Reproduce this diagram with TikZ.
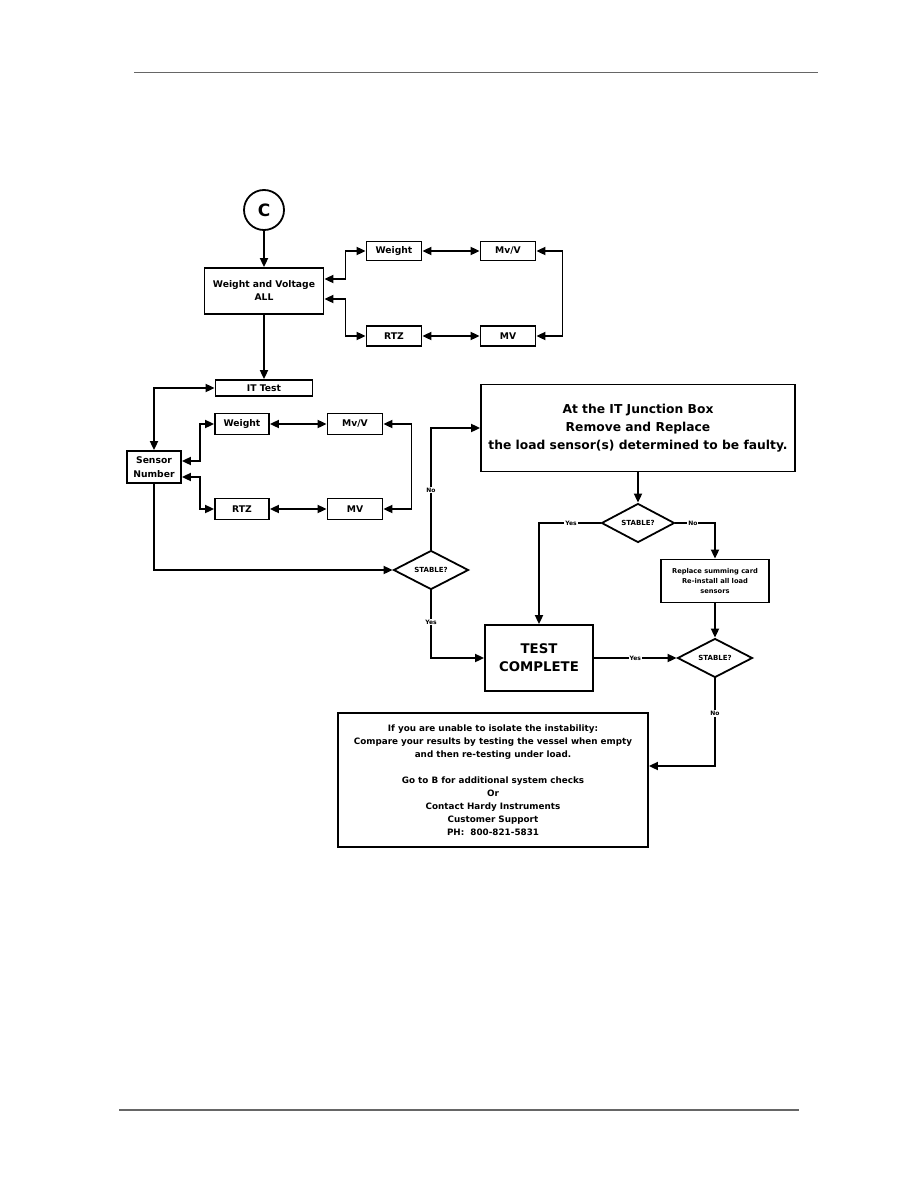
\documentclass[tikz,border=0pt]{standalone}
\usepackage{fontspec}
\setmainfont{DejaVu Sans}
\usetikzlibrary{shapes.geometric,arrows.meta}

\newcommand{\fsz}[2]{\fontsize{#1}{#2}\selectfont}

\begin{document}
\begin{tikzpicture}[x=1pt, y=-1pt, line width=1.8pt,
  box/.style={draw, rectangle, inner sep=0pt, align=center, font=\bfseries\fsz{9.2}{13}},
  dmd/.style={draw, diamond, aspect=1.9, inner sep=0pt, minimum width=75pt, minimum height=39pt, font=\bfseries\fsz{7}{8}},
  lbl/.style={fill=white, inner sep=1pt, font=\bfseries\fsz{6}{7}},
  >={Triangle[length=9pt, width=8pt]}]
  \useasboundingbox (0,0) rectangle (918,1188);
  % page rules
  \draw[line width=1pt, black!60] (134,73) -- (818,73);
  \draw[line width=2pt, black!60] (119,1110) -- (799,1110);

  % weight and voltage, all sensors
  \node[draw, circle, minimum size=40pt, inner sep=0pt, font=\bfseries\fsz{17}{20}] (c) at (264,210) {C};
  \node[box, minimum width=119pt, minimum height=46pt] (wv) at (264,291) {Weight and Voltage\\ALL};
  \node[box, minimum width=55pt, minimum height=19pt] (w1) at (394,251) {Weight};
  \node[box, minimum width=55pt, minimum height=19pt] (v1) at (508,251) {Mv/V};
  \node[box, minimum width=55pt, minimum height=20pt] (r1) at (394,336) {RTZ};
  \node[box, minimum width=55pt, minimum height=20pt] (m1) at (508,336) {MV};
  \draw[->] (c.south) -- (wv.north);
  \draw[<->] ([yshift=12pt]wv.east) -- ++(21,0) |- (w1.west);
  \draw[<->] ([yshift=-8pt]wv.east) -- ++(21,0) |- (r1.west);
  \draw[<->] (w1) -- (v1);
  \draw[<->] (r1) -- (m1);
  \draw[<->] (v1.east) -- ++(26,0) |- (m1.east);

  % IT test, one sensor at a time
  \node[box, minimum width=97pt, minimum height=16pt] (it) at (264,388) {IT Test};
  \node[box, minimum width=54pt, minimum height=32pt, font=\bfseries\fsz{9.2}{14}] (sn) at (154,467) {Sensor\\Number};
  \node[box, minimum width=54pt, minimum height=21pt] (w2) at (242,424) {Weight};
  \node[box, minimum width=55pt, minimum height=21pt] (v2) at (355,424) {Mv/V};
  \node[box, minimum width=54pt, minimum height=21pt] (r2) at (242,509) {RTZ};
  \node[box, minimum width=55pt, minimum height=21pt] (m2) at (355,509) {MV};
  \draw[->] (wv.south) -- (it.north);
  \draw[<->] (it.west) -| (sn.north);
  \draw[<->] ([yshift=6pt]sn.east) -- ++(18,0) |- (w2.west);
  \draw[<->] ([yshift=-10pt]sn.east) -- ++(18,0) |- (r2.west);
  \draw[<->] (w2) -- (v2);
  \draw[<->] (r2) -- (m2);
  \draw[<->] (v2.east) -- ++(28,0) |- (m2.east);

  % decisions
  \node[dmd] (d1) at (431,570) {STABLE?};
  \node[box, minimum width=314pt, minimum height=87pt, font=\bfseries\fsz{12.3}{18}] (big) at (638,428)
    {At the IT Junction Box\\Remove and Replace\\the load sensor(s) determined to be faulty.};
  \node[dmd, minimum width=73pt] (d2) at (638,523) {STABLE?};
  \node[box, minimum width=108pt, minimum height=43pt, font=\bfseries\fsz{6.7}{10}] (rep) at (715,581)
    {Replace summing card\\Re-install all load\\sensors};
  \node[box, minimum width=108pt, minimum height=66pt, font=\bfseries\fsz{13.3}{18}] (tc) at (539,658) {TEST\\COMPLETE};
  \node[dmd] (d3) at (715,658) {STABLE?};
  \node[box, minimum width=310pt, minimum height=134pt, font=\bfseries\fsz{8.8}{13}] (fin) at (493,780)
    {If you are unable to isolate the instability:\\Compare your results by testing the vessel when empty\\and then re-testing under load.\\[13pt]
     Go to B for additional system checks\\Or\\Contact Hardy Instruments\\Customer Support\\PH:~~800-821-5831};

  \draw[->] (sn.south) |- (d1.west);
  \draw[->] (d1.north) |- node[lbl, pos=0.245] {No} (big.west);
  \draw[->] (d1.south) |- node[lbl, pos=0.235] {Yes} (tc.west);
  \draw[->] (big.south) -- (d2.north);
  \draw[->] (d2.west) -| node[lbl, pos=0.24] {Yes} (tc.north);
  \draw[->] (d2.east) -| node[lbl, pos=0.22] {No} (rep.north);
  \draw[->] (rep.south) -- (d3.north);
  \draw[->] (tc.east) -- node[lbl] {Yes} (d3.west);
  \draw[->] (d3.south) |- node[lbl, pos=0.2] {No} ([yshift=14pt]fin.east);
\end{tikzpicture}
\end{document}
